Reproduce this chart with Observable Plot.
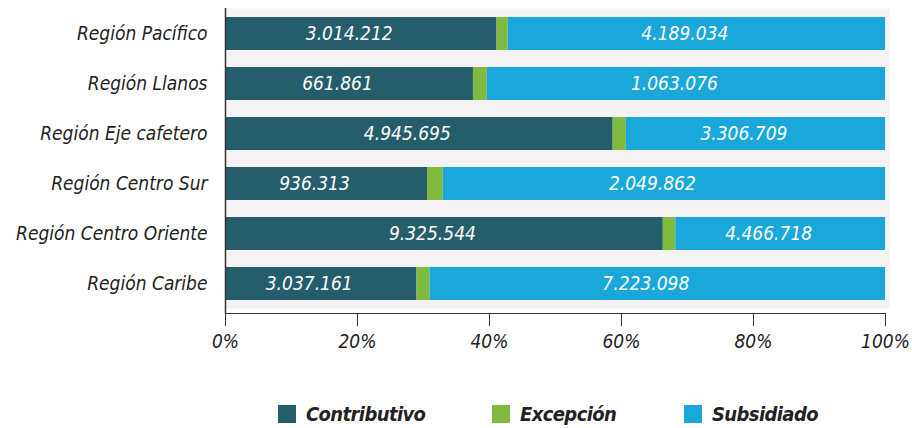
<!DOCTYPE html>
<html>
<head>
<meta charset="utf-8">
<script src="https://cdn.jsdelivr.net/npm/d3@7"></script>
<script src="https://cdn.jsdelivr.net/npm/@observablehq/plot@0.6"></script>
<style>
  html, body { margin: 0; padding: 0; background: #fff; }
  #wrap { position: relative; width: 912px; height: 428px; font-family: "DejaVu Sans Condensed", "Liberation Sans", sans-serif; }
  #legend { position: absolute; top: 402px; left: 0; width: 912px; height: 24px; }
  .item { position: absolute; top: 0; display: flex; align-items: center; font-weight: bold; font-style: italic; font-size: 20px; letter-spacing: -0.6px; color: #222; }
  .sw { width: 18px; height: 18px; margin-right: 10px; }
</style>
</head>
<body>
<div id="wrap"><div id="chart"></div><div id="legend"></div></div>
<script>
const regions = ["Región Pacífico", "Región Llanos", "Región Eje cafetero", "Región Centro Sur", "Región Centro Oriente", "Región Caribe"];
const contributivo = [3014212, 661861, 4945695, 936313, 9325544, 3037161];
const excepcion = [124000, 37000, 168000, 73000, 267000, 209000];
const subsidiado = [4189034, 1063076, 3306709, 2049862, 4466718, 7223098];
const tipos = ["Contributivo", "Excepción", "Subsidiado"];
const colors = ["#265d6d", "#7fba3f", "#1aa7d9"];
const xTicks = [0, 0.2, 0.4, 0.6, 0.8, 1];

const series = [contributivo, excepcion, subsidiado];
const data = [];
regions.forEach((r, i) => tipos.forEach((t, j) => data.push({region: r, tipo: t, value: series[j][i]})));

const loc = d3.formatLocale({decimal: ",", thousands: ".", grouping: [3], currency: ["$", ""]});
const fmt = loc.format(",");
const font = "\"DejaVu Sans Condensed\", \"Liberation Sans\", sans-serif";

const chart = Plot.plot({
  width: 912,
  height: 390,
  marginLeft: 225,
  marginRight: 27,
  marginTop: 8,
  marginBottom: 77,
  style: {fontFamily: font, fontStyle: "italic", fontSize: "19px", color: "#222", background: "#fff"},
  x: {domain: [0, 1], ticks: xTicks, tickFormat: d3.format(".0%"), label: null},
  y: {domain: regions, paddingInner: 0.34, paddingOuter: 0.17, insetBottom: 5, label: null},
  color: {domain: tipos, range: colors},
  marks: [
    Plot.frame({fill: "#f4f2f3", stroke: null, insetBottom: 5, insetRight: -4}),
    Plot.barX(data, Plot.stackX({offset: "normalize", x: "value", y: "region", fill: "tipo", z: "tipo", order: tipos})),
    Plot.textX(data, Plot.stackX({offset: "normalize", x: "value", y: "region", z: "tipo", order: tipos,
      text: d => d.tipo === "Excepción" ? null : fmt(d.value), fill: "white", dx: -12, fontSize: 19, fontStyle: "italic"})),
    Plot.ruleX([0], {stroke: "#333", strokeWidth: 1.5}),
    Plot.frame({anchor: "bottom", stroke: "#333", strokeWidth: 1.2}),
    Plot.axisX({ticks: xTicks, tickFormat: d3.format(".0%"), tickSize: 13, tickPadding: 8, stroke: "#333", fontSize: 19, label: null}),
    Plot.axisY({tickSize: 0, tickPadding: 18, fontSize: 19, label: null})
  ]
});
document.getElementById("chart").appendChild(chart);

const legend = document.getElementById("legend");
const lefts = [278, 492, 684];
tipos.forEach((t, i) => {
  const it = document.createElement("div");
  it.className = "item";
  it.style.left = lefts[i] + "px";
  it.innerHTML = `<span class="sw" style="background:${colors[i]}"></span><span>${t}</span>`;
  legend.appendChild(it);
});
</script>
</body>
</html>
